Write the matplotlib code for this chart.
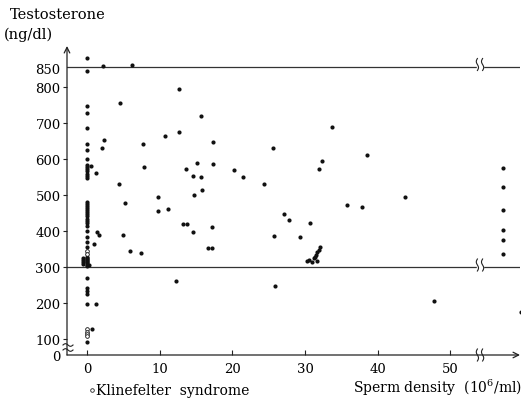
# testosterone vs sperm density scatter
import numpy as np
import matplotlib
matplotlib.use("Agg")
from matplotlib import pyplot as plt
from matplotlib.lines import Line2D

plt.rcParams['font.family'] = 'DejaVu Serif'
plt.rcParams['mathtext.fontset'] = 'dejavuserif'

W, H = 522, 406

# azoospermic patients (density 0), testosterone ng/dl
azoo_y = [880, 845, 748, 727, 686, 642, 626, 600, 584, 579, 572, 566, 558, 552, 546,
          482, 475, 469, 464, 458, 453, 447, 441, 434, 428, 421, 415, 399, 384, 370,
          356, 328, 325, 322, 319, 316, 313, 310, 307, 304, 269, 241, 233, 226, 197, 92]
# the crowded block just above 300 is two dots wide
block_y = [326, 320, 314, 308, 305]
block_x = [-0.5, -0.5, -0.5, -0.5, 0.3]

# patients with sperm in ejaculate
dens_x = [2.2, 6.2, 4.6, 2.3, 2.1, 12.6, 0.5, 1.2, 4.4, 5.3, 1.4, 1.6, 4.9, 1.0, 5.9,
          7.5, 1.2, 0.7,
          15.7, 12.6, 10.8, 7.7, 17.3, 25.6, 7.8, 15.2, 13.6, 17.3, 20.2, 31.9, 14.6,
          15.7, 21.5, 24.4, 14.7, 15.8, 9.8, 9.8, 11.2, 27.1, 27.8, 30.7, 13.2, 13.8,
          14.6, 17.2, 25.7, 29.3, 16.7, 17.2, 12.2, 25.9, 33.7, 32.3, 38.6, 43.8, 35.8,
          37.8, 47.8, 59.7,
          30.3, 30.6, 31.0, 31.2, 31.4, 31.5, 31.7, 31.9, 32.1, 31.6]
dens_y = [858, 861, 757, 653, 632, 795, 582, 560, 530, 477, 396, 390, 388, 364, 344,
          340, 197, 128,
          719, 676, 664, 642, 648, 631, 577, 590, 573, 585, 569, 571, 552,
          549, 549, 531, 499, 513, 494, 456, 461, 447, 430, 423, 420, 419,
          396, 411, 386, 384, 354, 352, 261, 248, 689, 594, 610, 494, 473,
          466, 206, 174,
          316, 320, 314, 324, 329, 334, 341, 347, 355, 318]

# off-scale density (beyond the axis break)
high_y = [574, 522, 458, 403, 375, 336]

# Klinefelter syndrome (open circles, density 0)
kline_y = [345, 336, 128, 120, 113, 107]

y_ticks = [100, 200, 300, 400, 500, 600, 700, 800, 850]
x_ticks = [0, 10, 20, 30, 40, 50]

XMIN, XMAX = -2.75, 59.6
YMIN, YMAX = 55.6, 914
HIGH_POS = 57.2

fig = plt.figure(figsize=(W / 100, H / 100), dpi=100)
ax = fig.add_axes([67 / W, 50 / H, 453 / W, 309 / H])
ax.set_xlim(XMIN, XMAX)
ax.set_ylim(YMIN, YMAX)
for s in ax.spines.values():
    s.set_visible(False)
ax.patch.set_alpha(0)

dot = dict(s=9, color='#111111', linewidths=0, zorder=3)
ax.scatter(np.zeros(len(azoo_y)), azoo_y, **dot)
ax.scatter(block_x, block_y, **dot)
ax.scatter(dens_x, dens_y, **dot)
ax.scatter(np.full(len(high_y), HIGH_POS), high_y, **dot)
ax.scatter(np.zeros(len(kline_y)), kline_y, s=7, facecolors='white',
           edgecolors='#111111', linewidths=0.6, zorder=3)

# reference lines
for yl in (300, 856):
    ax.axhline(yl, color='#333333', lw=0.9, zorder=1)

# axes with arrows
ax.annotate('', xy=(1.0, 0), xytext=(0, 0), xycoords='axes fraction',
            arrowprops=dict(arrowstyle='->', lw=0.9, color='#222222',
                            shrinkA=0, shrinkB=0))
ax.annotate('', xy=(0, 1.0), xytext=(0, 0), xycoords='axes fraction',
            arrowprops=dict(arrowstyle='->', lw=0.9, color='#222222',
                            shrinkA=0, shrinkB=0))

ax.set_xticks(x_ticks)
ax.set_xticklabels([str(v) for v in x_ticks])
ax.tick_params(axis='x', direction='in', length=3.5, width=0.8, pad=5,
               labelsize=9.5, color='#222222')
ax.set_yticks([YMIN] + y_ticks[:-1] + [852])
ax.set_yticklabels(['0'] + [str(v) for v in y_ticks])
ax.tick_params(axis='y', direction='out', length=3, width=0.8, pad=1.5,
               labelsize=9.5, color='#222222')
ax.yaxis.get_major_ticks()[0].tick1line.set_visible(False)
ax.yaxis.get_major_ticks()[-1].tick1line.set_visible(False)

inv = ax.transData.inverted()


def to_data(px, py):
    pts = inv.transform(np.column_stack([np.asarray(px), H - np.asarray(py)]))
    return pts[:, 0], pts[:, 1]


def vbreak(pxc, pyc, half=6):
    # white gap with two wavy strokes across a horizontal line
    gx, gy = to_data([pxc - 2.5, pxc + 2.5, pxc + 2.5, pxc - 2.5],
                     [pyc - half, pyc - half, pyc + half, pyc + half])
    ax.fill(gx, gy, color='white', zorder=2, clip_on=False)
    t = np.linspace(-1, 1, 40)
    for off in (-2.6, 2.6):
        bx, by = to_data(pxc + off + 1.1 * np.sin(np.pi * t), pyc + half * t)
        ax.plot(bx, by, color='#222222', lw=0.8, zorder=4, clip_on=False)


def hbreak(pxc, pyc):
    t = np.linspace(-1, 1, 40)
    bx, by = to_data(pxc + 5 * t, pyc + 1.3 * np.sin(np.pi * t))
    ax.plot(bx, by, color='#222222', lw=0.8, zorder=4, clip_on=False)


vbreak(480, 356)
vbreak(480, 65.5)
vbreak(480, 266)
hbreak(68, 346)
hbreak(68, 351)

fig.text(10 / W, 1 - 15 / H, 'Testosterone', fontsize=10.5, va='center', ha='left')
fig.text(4 / W, 1 - 35 / H, '(ng/dl)', fontsize=10.5, va='center', ha='left')
fig.text(1.0, 1 - 388 / H, 'Sperm density  (10$^6$/ml)', fontsize=10,
         va='center', ha='right')
fig.add_artist(Line2D([92 / W], [1 - 391 / H], marker='o', markersize=2.6,
                      markerfacecolor='white', markeredgecolor='#222222',
                      markeredgewidth=0.6, transform=fig.transFigure))
fig.text(96 / W, 1 - 391 / H, 'Klinefelter  syndrome', fontsize=10,
         va='center', ha='left')

fig.savefig('out.png', dpi=100)
